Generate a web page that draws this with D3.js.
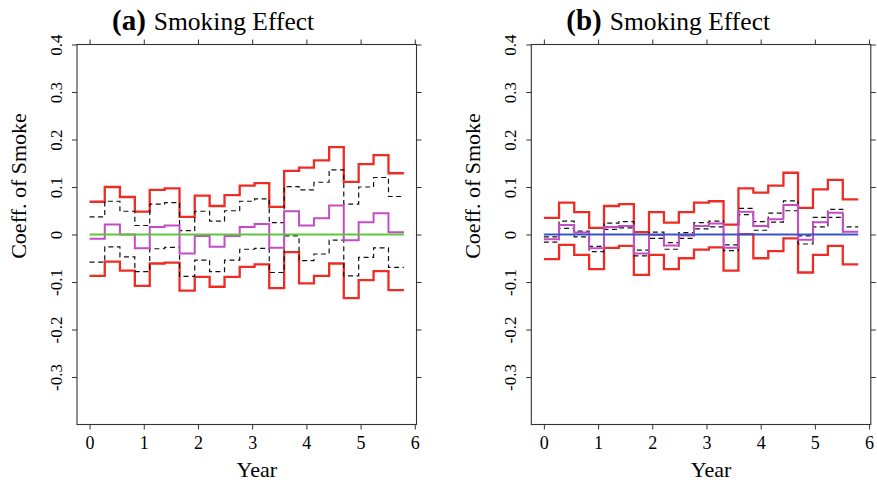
<!DOCTYPE html>
<html>
<head>
<meta charset="utf-8">
<script src="https://cdn.jsdelivr.net/npm/d3@7"></script>
<style>
  html, body { margin: 0; padding: 0; background: #fff; }
  svg { display: block; }
  text { font-family: "Liberation Serif", "Times New Roman", serif; fill: #000; }
</style>
</head>
<body>
<svg id="chart" width="877" height="483"></svg>
<script>
// ---- data ----
const stepBreaks = [0, 0.28, 0.56, 0.835, 1.11, 1.385, 1.66, 1.94, 2.215, 2.49, 2.77, 3.045, 3.315, 3.59, 3.865, 4.14, 4.42, 4.69, 4.965, 5.24, 5.515, 5.8];

const xTicks = [0, 1, 2, 3, 4, 5, 6];
const yTicks = [-0.3, -0.2, -0.1, 0, 0.1, 0.2, 0.3, 0.4];
const yTickLabels = ["-0.3", "-0.2", "-0.1", "0", "0.1", "0.2", "0.3", "0.4"];

// Panel (a)
const aUpperRed  = [0.069, 0.100, 0.079, 0.048, 0.094, 0.097, 0.037, 0.082, 0.060, 0.083, 0.103, 0.108, 0.058, 0.134, 0.141, 0.156, 0.184, 0.111, 0.148, 0.167, 0.129];
const aUpperDash = [0.037, 0.070, 0.049, 0.019, 0.064, 0.067, 0.008, 0.049, 0.028, 0.050, 0.070, 0.075, 0.025, 0.101, 0.094, 0.110, 0.136, 0.064, 0.100, 0.120, 0.080];
const aEstimate  = [-0.009, 0.021, 0.000, -0.029, 0.016, 0.019, -0.040, -0.003, -0.026, -0.003, 0.016, 0.022, -0.028, 0.049, 0.019, 0.034, 0.061, -0.012, 0.026, 0.045, 0.005];
const aLowerDash = [-0.058, -0.026, -0.047, -0.078, -0.030, -0.027, -0.088, -0.054, -0.078, -0.054, -0.031, -0.029, -0.080, -0.003, -0.055, -0.041, -0.012, -0.087, -0.048, -0.028, -0.069];
const aLowerRed  = [-0.087, -0.057, -0.076, -0.108, -0.061, -0.059, -0.118, -0.089, -0.110, -0.089, -0.068, -0.063, -0.113, -0.037, -0.103, -0.087, -0.061, -0.134, -0.096, -0.077, -0.117];

// Panel (b)
const bUpperRed  = [0.035, 0.067, 0.047, 0.014, 0.060, 0.064, 0.005, 0.047, 0.025, 0.047, 0.067, 0.070, 0.021, 0.097, 0.088, 0.103, 0.130, 0.056, 0.095, 0.115, 0.074];
const bUpperDash = [-0.005, 0.028, 0.007, -0.025, 0.024, 0.027, -0.033, 0.005, -0.017, 0.004, 0.025, 0.028, -0.022, 0.055, 0.027, 0.045, 0.071, -0.003, 0.036, 0.053, 0.016];
const bEstimate  = [-0.010, 0.020, 0.004, -0.029, 0.016, 0.018, -0.040, -0.001, -0.023, -0.002, 0.018, 0.023, -0.028, 0.048, 0.018, 0.032, 0.062, -0.011, 0.026, 0.046, 0.006];
const bLowerDash = [-0.016, 0.013, -0.005, -0.036, 0.011, 0.014, -0.045, -0.008, -0.031, -0.008, 0.012, 0.016, -0.034, 0.042, 0.009, 0.026, 0.050, -0.020, 0.016, 0.036, 0.000];
const bLowerRed  = [-0.052, -0.022, -0.043, -0.073, -0.028, -0.024, -0.085, -0.043, -0.073, -0.050, -0.032, -0.027, -0.076, 0.001, -0.050, -0.035, -0.008, -0.080, -0.043, -0.024, -0.063];

const panels = [
  { label: "(a)", title: "Smoking Effect", dx: 0,     zeroColor: "#5cc83a",
    upperRed: aUpperRed, upperDash: aUpperDash, est: aEstimate, lowerDash: aLowerDash, lowerRed: aLowerRed },
  { label: "(b)", title: "Smoking Effect", dx: 454.3, zeroColor: "#3a56c6",
    upperRed: bUpperRed, upperDash: bUpperDash, est: bEstimate, lowerDash: bLowerDash, lowerRed: bLowerRed }
];

// ---- drawing ----
const SERIF = "Liberation Serif, Times New Roman, serif";
const svg = d3.select("#chart");
const RED = "#ee2c24", MAG = "#c44cc4";

panels.forEach(p => {
  const left = 77 + p.dx, right = 416.5 + p.dx, top = 44.5, bottom = 424.5;
  const x = d3.scaleLinear().domain([-0.232, 6.032]).range([left, right]);
  const y = d3.scaleLinear().domain([-0.4, 0.4]).range([bottom, top]);
  const g = svg.append("g");

  const stepLine = d3.line()
    .x(d => x(d[0])).y(d => y(d[1]))
    .curve(d3.curveStepAfter);
  const toPts = vals => {
    const pts = vals.map((v, i) => [stepBreaks[i], v]);
    pts.push([stepBreaks[stepBreaks.length - 1], vals[vals.length - 1]]);
    return pts;
  };

  const lines = g.append("g");
  [p.upperRed, p.lowerRed].forEach(v =>
    lines.append("path").attr("d", stepLine(toPts(v)))
      .attr("fill", "none").attr("stroke", RED).attr("stroke-width", 2.3));
  [p.upperDash, p.lowerDash].forEach(v =>
    lines.append("path").attr("d", stepLine(toPts(v)))
      .attr("fill", "none").attr("stroke", "#111").attr("stroke-width", 1.2)
      .attr("stroke-dasharray", "5,3.5"));
  lines.append("path").attr("d", stepLine(toPts(p.est)))
    .attr("fill", "none").attr("stroke", MAG).attr("stroke-width", 2);
  lines.append("line")
    .attr("x1", x(0)).attr("x2", x(5.8)).attr("y1", y(0)).attr("y2", y(0))
    .attr("stroke", p.zeroColor).attr("stroke-width", 2);

  // box
  g.append("rect").attr("x", left).attr("y", top)
    .attr("width", right - left).attr("height", bottom - top)
    .attr("fill", "none").attr("stroke", "#333").attr("stroke-width", 1.1);

  // bottom axis
  const ax1 = g.append("g").attr("transform", `translate(0,${bottom})`)
    .call(d3.axisBottom(x).tickValues(xTicks).tickSize(5).tickSizeOuter(0).tickFormat(d3.format("d")))
    .attr("font-family", SERIF).attr("font-size", 18);
  ax1.select(".domain").remove();
  ax1.selectAll("line").attr("stroke", "#333");
  ax1.selectAll("text").attr("y", 24.5).attr("dy", null).attr("fill", "#000");

  // top axis (ticks only)
  const ax3 = g.append("g").attr("transform", `translate(0,${top})`)
    .call(d3.axisTop(x).tickValues(xTicks).tickSize(5).tickSizeOuter(0).tickFormat(""));
  ax3.select(".domain").remove();
  ax3.selectAll("line").attr("stroke", "#333");

  // left axis
  const ax2 = g.append("g").attr("transform", `translate(${left},0)`)
    .call(d3.axisLeft(y).tickValues(yTicks).tickSize(5).tickSizeOuter(0)
      .tickFormat((d, i) => yTickLabels[i]))
    .attr("font-family", SERIF).attr("font-size", 17);
  ax2.select(".domain").remove();
  ax2.selectAll("line").attr("stroke", "#333");
  ax2.selectAll("text").attr("x", null).attr("dy", null).attr("fill", "#000")
    .attr("transform", "translate(-15,0) rotate(-90)")
    .attr("text-anchor", "middle");

  // right axis (ticks only)
  const ax4 = g.append("g").attr("transform", `translate(${right},0)`)
    .call(d3.axisRight(y).tickValues(yTicks).tickSize(5).tickSizeOuter(0).tickFormat(""));
  ax4.select(".domain").remove();
  ax4.selectAll("line").attr("stroke", "#333");

  // axis titles
  g.append("text").attr("x", (left + right) / 2 + 10).attr("y", 477)
    .attr("text-anchor", "middle").style("font-size", "22px").text("Year");
  g.append("text")
    .attr("transform", `translate(${25.5 + p.dx},186) rotate(-90)`)
    .attr("text-anchor", "middle").style("font-size", "22px").text("Coeff. of Smoke");

  // title
  const t = g.append("text").attr("x", 112 + p.dx).attr("y", 30);
  t.append("tspan").style("font-weight", "bold").style("font-size", "29px").text(p.label);
  t.append("tspan").attr("dx", 8).style("font-size", "25.5px").text(p.title);
});
</script>
</body>
</html>
